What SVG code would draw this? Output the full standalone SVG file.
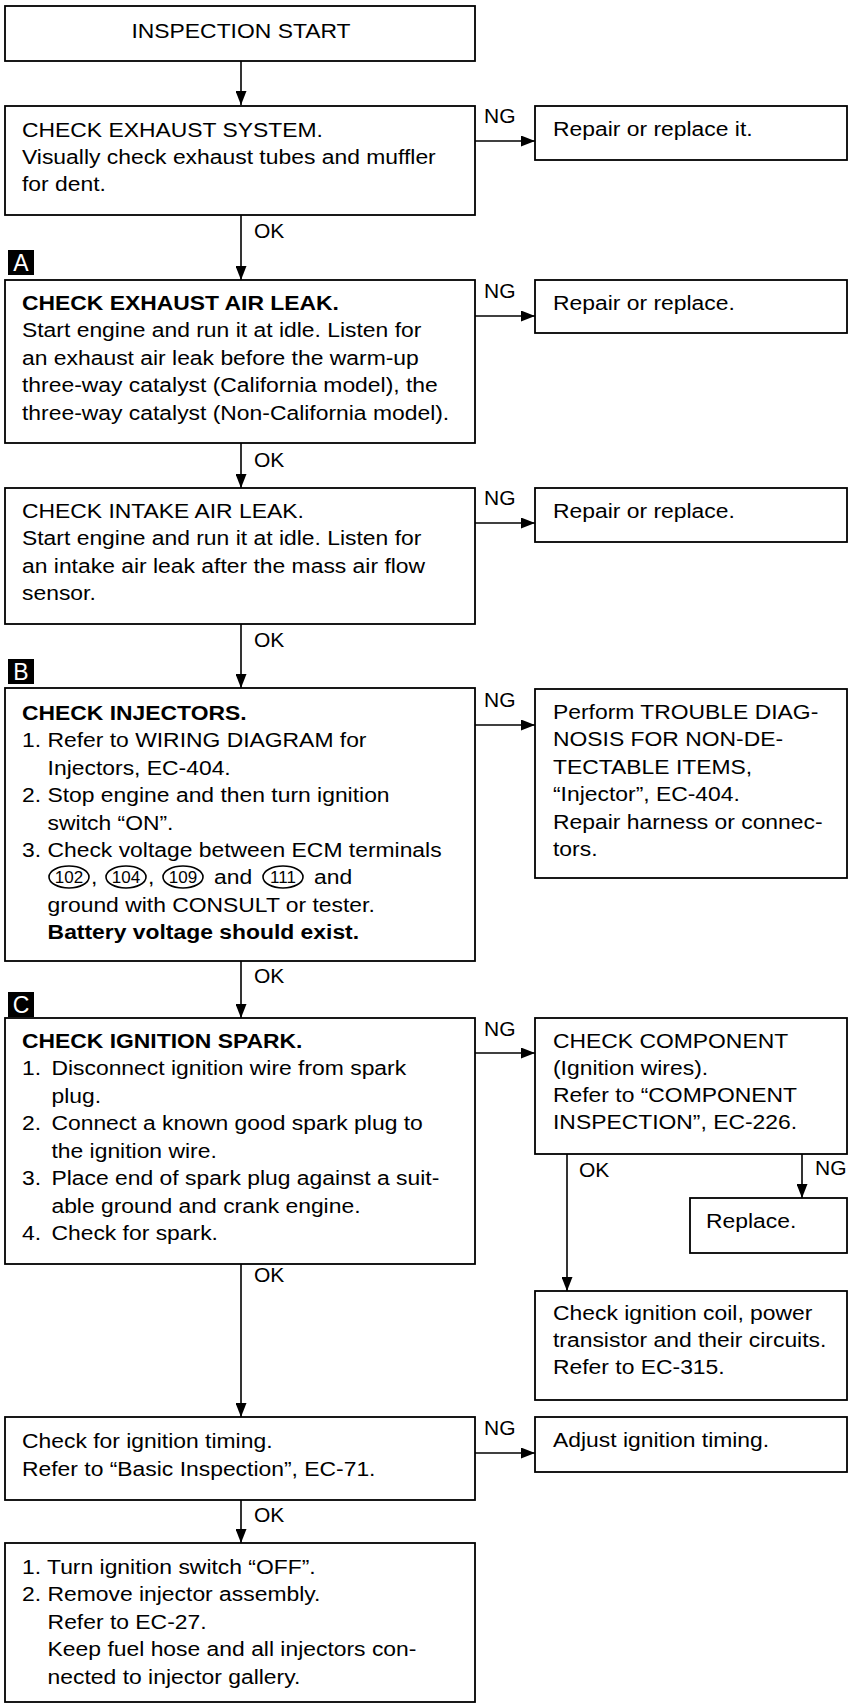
<svg xmlns="http://www.w3.org/2000/svg" width="849" height="1704" viewBox="0 0 849 1704">
  <style>
    .box { fill: #fff; stroke: #000; stroke-width: 1.8; }
    .t { font-family: "Liberation Sans", Arial, Helvetica, sans-serif; font-size: 21px; fill: #000; }
    .b { font-weight: bold; }
    .lbl { font-family: "Liberation Sans", Arial, Helvetica, sans-serif; font-size: 21px; fill: #000; }
    .badge { fill: #000; }
    .badge-t { font-family: "Liberation Sans", Arial, sans-serif; font-size: 23px; fill: #fff; text-anchor: middle; }
    .conn { fill: none; stroke: #000; stroke-width: 1.6; }
    .circ { fill: none; stroke: #000; stroke-width: 1.6; }
    .cn { font-family: "Liberation Sans", Arial, sans-serif; font-size: 17px; fill: #000; text-anchor: middle; }
  </style>
  <defs>
    <marker id="arrow" viewBox="0 0 14 11" refX="14" refY="5.5" markerWidth="14" markerHeight="11" markerUnits="userSpaceOnUse" orient="auto">
      <path d="M0,0 L14,5.5 L0,11 z" fill="#000"/>
    </marker>
  </defs>

  <rect width="849" height="1704" fill="#fff"/>

  <!-- connectors -->
  <g id="connectors">
    <line class="conn" x1="241" y1="61" x2="241" y2="105" marker-end="url(#arrow)"/>
    <line class="conn" x1="241" y1="215" x2="241" y2="280" marker-end="url(#arrow)"/>
    <line class="conn" x1="241" y1="443" x2="241" y2="488" marker-end="url(#arrow)"/>
    <line class="conn" x1="241" y1="624" x2="241" y2="688" marker-end="url(#arrow)"/>
    <line class="conn" x1="241" y1="961" x2="241" y2="1018" marker-end="url(#arrow)"/>
    <line class="conn" x1="241" y1="1264" x2="241" y2="1417" marker-end="url(#arrow)"/>
    <line class="conn" x1="241" y1="1500" x2="241" y2="1543" marker-end="url(#arrow)"/>

    <line class="conn" x1="475" y1="141" x2="535" y2="141" marker-end="url(#arrow)"/>
    <line class="conn" x1="475" y1="316" x2="535" y2="316" marker-end="url(#arrow)"/>
    <line class="conn" x1="475" y1="523" x2="535" y2="523" marker-end="url(#arrow)"/>
    <line class="conn" x1="475" y1="725" x2="535" y2="725" marker-end="url(#arrow)"/>
    <line class="conn" x1="475" y1="1053" x2="535" y2="1053" marker-end="url(#arrow)"/>
    <line class="conn" x1="475" y1="1453" x2="535" y2="1453" marker-end="url(#arrow)"/>

    <line class="conn" x1="567" y1="1154" x2="567" y2="1291" marker-end="url(#arrow)"/>
    <line class="conn" x1="802" y1="1154" x2="802" y2="1198" marker-end="url(#arrow)"/>

    <g class="lbl">
      <text x="254" y="238">OK</text>
      <text x="254" y="467">OK</text>
      <text x="254" y="647">OK</text>
      <text x="254" y="983">OK</text>
      <text x="254" y="1282">OK</text>
      <text x="254" y="1522">OK</text>
      <text x="484" y="123">NG</text>
      <text x="484" y="298">NG</text>
      <text x="484" y="505">NG</text>
      <text x="484" y="707">NG</text>
      <text x="484" y="1036">NG</text>
      <text x="484" y="1435">NG</text>
      <text x="579" y="1177">OK</text>
      <text x="815" y="1175">NG</text>
    </g>
  </g>

  <!-- section badges -->
  <g id="badge-a">
    <rect class="badge" x="8" y="250" width="26" height="25"/>
    <text class="badge-t" x="21" y="271">A</text>
  </g>
  <g id="badge-b">
    <rect class="badge" x="8" y="659" width="26" height="25"/>
    <text class="badge-t" x="21" y="680">B</text>
  </g>
  <g id="badge-c">
    <rect class="badge" x="8" y="992" width="26" height="25"/>
    <text class="badge-t" x="21" y="1013">C</text>
  </g>

  <!-- main column -->
  <g id="start">
    <rect class="box" x="5" y="6" width="470" height="55"/>
    <text class="t" text-anchor="middle" transform="translate(241 0) scale(1.09 1)"><tspan x="0" y="38">INSPECTION START</tspan></text>
  </g>

  <g id="exhaust-system">
    <rect class="box" x="5" y="106" width="470" height="109"/>
    <text class="t" transform="translate(22 0) scale(1.09 1)">
      <tspan x="0" y="137">CHECK EXHAUST SYSTEM.</tspan>
      <tspan x="0" y="164">Visually check exhaust tubes and muffler</tspan>
      <tspan x="0" y="191">for dent.</tspan>
    </text>
  </g>

  <g id="exhaust-air-leak">
    <rect class="box" x="5" y="280" width="470" height="163"/>
    <text class="t" transform="translate(22 0) scale(1.09 1)">
      <tspan class="b" x="0" y="310">CHECK EXHAUST AIR LEAK.</tspan>
      <tspan x="0" y="337.5">Start engine and run it at idle. Listen for</tspan>
      <tspan x="0" y="365">an exhaust air leak before the warm-up</tspan>
      <tspan x="0" y="392.5">three-way catalyst (California model), the</tspan>
      <tspan x="0" y="420">three-way catalyst (Non-California model).</tspan>
    </text>
  </g>

  <g id="intake-air-leak">
    <rect class="box" x="5" y="488" width="470" height="136"/>
    <text class="t" transform="translate(22 0) scale(1.09 1)">
      <tspan x="0" y="518">CHECK INTAKE AIR LEAK.</tspan>
      <tspan x="0" y="545.5">Start engine and run it at idle. Listen for</tspan>
      <tspan x="0" y="573">an intake air leak after the mass air flow</tspan>
      <tspan x="0" y="600.5">sensor.</tspan>
    </text>
  </g>

  <g id="injectors">
    <rect class="box" x="5" y="688" width="470" height="273"/>
    <text class="t" transform="translate(22 0) scale(1.09 1)">
      <tspan class="b" x="0" y="720">CHECK INJECTORS.</tspan>
      <tspan x="0" y="747.5">1. Refer to WIRING DIAGRAM for</tspan>
      <tspan x="23.5" y="775">Injectors, EC-404.</tspan>
      <tspan x="0" y="802.5">2. Stop engine and then turn ignition</tspan>
      <tspan x="23.5" y="830">switch “ON”.</tspan>
      <tspan x="0" y="857.5">3. Check voltage between ECM terminals</tspan>
      <tspan x="23.5" y="912">ground with CONSULT or tester.</tspan>
      <tspan class="b" x="23.5" y="939">Battery voltage should exist.</tspan>
    </text>
    <!-- ECM terminal numbers in circles -->
    <ellipse class="circ" cx="69" cy="877" rx="20" ry="11"/>
    <ellipse class="circ" cx="126" cy="877" rx="20" ry="11"/>
    <ellipse class="circ" cx="183" cy="877" rx="20" ry="11"/>
    <ellipse class="circ" cx="283" cy="877" rx="20" ry="11"/>
    <text class="cn" x="69" y="883">102</text>
    <text class="cn" x="126" y="883">104</text>
    <text class="cn" x="183" y="883">109</text>
    <text class="cn" x="283" y="883">111</text>
    <text class="t" transform="translate(91 884) scale(1.09 1)">,</text>
    <text class="t" transform="translate(148 884) scale(1.09 1)">,</text>
    <text class="t" transform="translate(214 884) scale(1.09 1)">and</text>
    <text class="t" transform="translate(314 884) scale(1.09 1)">and</text>
  </g>

  <g id="ignition-spark">
    <rect class="box" x="5" y="1018" width="470" height="246"/>
    <text class="t" transform="translate(22 0) scale(1.09 1)">
      <tspan class="b" x="0" y="1048">CHECK IGNITION SPARK.</tspan>
      <tspan x="0" y="1075.5">1.</tspan><tspan x="27" y="1075.5">Disconnect ignition wire from spark</tspan>
      <tspan x="27" y="1103">plug.</tspan>
      <tspan x="0" y="1130.5">2.</tspan><tspan x="27" y="1130.5">Connect a known good spark plug to</tspan>
      <tspan x="27" y="1158">the ignition wire.</tspan>
      <tspan x="0" y="1185.5">3.</tspan><tspan x="27" y="1185.5">Place end of spark plug against a suit-</tspan>
      <tspan x="27" y="1213">able ground and crank engine.</tspan>
      <tspan x="0" y="1240.5">4.</tspan><tspan x="27" y="1240.5">Check for spark.</tspan>
    </text>
  </g>

  <g id="ignition-timing">
    <rect class="box" x="5" y="1417" width="470" height="83"/>
    <text class="t" transform="translate(22 0) scale(1.09 1)">
      <tspan x="0" y="1448">Check for ignition timing.</tspan>
      <tspan x="0" y="1476">Refer to “Basic Inspection”, EC-71.</tspan>
    </text>
  </g>

  <g id="remove-injectors">
    <rect class="box" x="5" y="1543" width="470" height="159"/>
    <text class="t" transform="translate(22 0) scale(1.09 1)">
      <tspan x="0" y="1574">1. Turn ignition switch “OFF”.</tspan>
      <tspan x="0" y="1601.5">2. Remove injector assembly.</tspan>
      <tspan x="23.5" y="1629">Refer to EC-27.</tspan>
      <tspan x="23.5" y="1656.5">Keep fuel hose and all injectors con-</tspan>
      <tspan x="23.5" y="1684">nected to injector gallery.</tspan>
    </text>
  </g>

  <!-- right column -->
  <g id="repair-exhaust">
    <rect class="box" x="535" y="106" width="312" height="54"/>
    <text class="t" transform="translate(553 0) scale(1.09 1)"><tspan x="0" y="136">Repair or replace it.</tspan></text>
  </g>

  <g id="repair-exhaust-leak">
    <rect class="box" x="535" y="280" width="312" height="53"/>
    <text class="t" transform="translate(553 0) scale(1.09 1)"><tspan x="0" y="310">Repair or replace.</tspan></text>
  </g>

  <g id="repair-intake-leak">
    <rect class="box" x="535" y="488" width="312" height="54"/>
    <text class="t" transform="translate(553 0) scale(1.09 1)"><tspan x="0" y="518">Repair or replace.</tspan></text>
  </g>

  <g id="injector-diagnosis">
    <rect class="box" x="535" y="689" width="312" height="189"/>
    <text class="t" transform="translate(553 0) scale(1.09 1)">
      <tspan x="0" y="719">Perform TROUBLE DIAG-</tspan>
      <tspan x="0" y="746.5">NOSIS FOR NON-DE-</tspan>
      <tspan x="0" y="774">TECTABLE ITEMS,</tspan>
      <tspan x="0" y="801.5">“Injector”, EC-404.</tspan>
      <tspan x="0" y="829">Repair harness or connec-</tspan>
      <tspan x="0" y="856.5">tors.</tspan>
    </text>
  </g>

  <g id="check-component">
    <rect class="box" x="535" y="1018" width="312" height="136"/>
    <text class="t" transform="translate(553 0) scale(1.09 1)">
      <tspan x="0" y="1048">CHECK COMPONENT</tspan>
      <tspan x="0" y="1075">(Ignition wires).</tspan>
      <tspan x="0" y="1102">Refer to “COMPONENT</tspan>
      <tspan x="0" y="1129">INSPECTION”, EC-226.</tspan>
    </text>
  </g>

  <g id="replace">
    <rect class="box" x="690" y="1198" width="157" height="55"/>
    <text class="t" transform="translate(706 0) scale(1.09 1)"><tspan x="0" y="1228">Replace.</tspan></text>
  </g>

  <g id="ignition-coil">
    <rect class="box" x="535" y="1291" width="312" height="109"/>
    <text class="t" transform="translate(553 0) scale(1.09 1)">
      <tspan x="0" y="1320">Check ignition coil, power</tspan>
      <tspan x="0" y="1347">transistor and their circuits.</tspan>
      <tspan x="0" y="1374">Refer to EC-315.</tspan>
    </text>
  </g>

  <g id="adjust-timing">
    <rect class="box" x="535" y="1417" width="312" height="55"/>
    <text class="t" transform="translate(553 0) scale(1.09 1)"><tspan x="0" y="1447">Adjust ignition timing.</tspan></text>
  </g>
</svg>
